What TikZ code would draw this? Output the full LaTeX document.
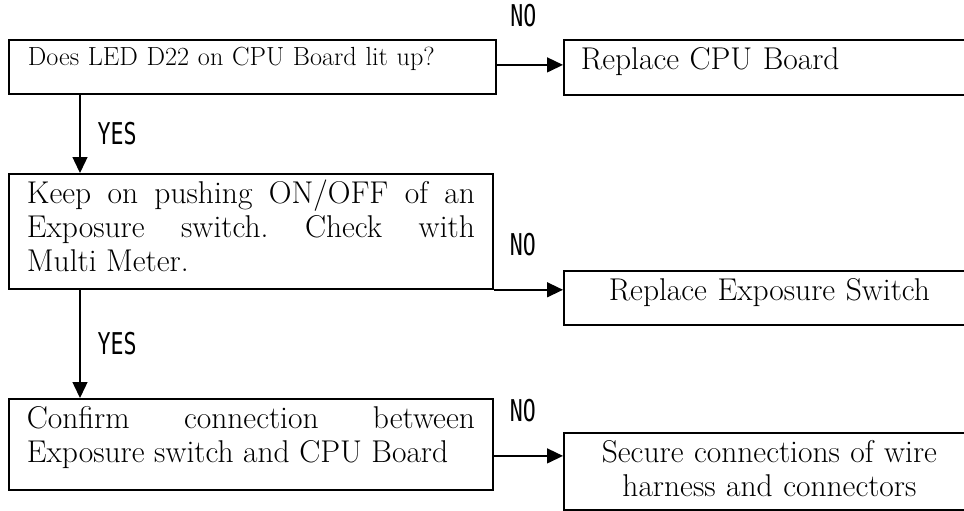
\documentclass[tikz,border=0pt]{standalone}
\usepackage{fontspec}
\usepackage{graphicx}
\usetikzlibrary{arrows.meta}
\newfontfamily\lblfont{DejaVu Sans Mono}
\newcommand\lbltext[1]{\scalebox{.72}[1]{#1}}

\begin{document}
\frenchspacing
\begin{tikzpicture}[x=1pt,y=-1pt,
    box/.style={draw, line width=1.8pt, anchor=north west, inner ysep=0pt,
      text height=30pt, font=\fontsize{31.5}{34}\selectfont},
    arr/.style={line width=1.4pt, -{Triangle[length=16pt,width=15pt]}},
    lbl/.style={inner sep=0pt, font=\fontsize{30}{32}\lblfont}]
    \useasboundingbox (0,0) rectangle (964,511);
    % checks
    \node[box, inner xsep=19pt, text width=449pt, align=left,
      text height=26pt, text depth=28pt, font=\fontsize{26.2}{30}\selectfont]
      (q1) at (8,39) {Does LED D22 on CPU Board lit up?};
    \node[box, inner xsep=18pt, text width=448pt, align=justify, text depth=85pt]
      (q2) at (8,173) {Keep on pushing ON/OFF of an\linebreak
      Exposure switch. Check with\linebreak Multi Meter.};
    \node[box, inner xsep=18pt, text width=448pt, align=justify, text depth=61pt]
      (q3) at (8,398) {Confirm connection between\linebreak
      Exposure switch and CPU Board};
    % actions
    \node[box, inner xsep=17pt, text width=377pt, align=left, text depth=25pt]
      (r1) at (563,39) {Replace CPU Board};
    \node[box, inner xsep=0pt, text width=411pt, align=center, text depth=24pt]
      (r2) at (563,270) {Replace Exposure Switch};
    \node[box, inner xsep=0pt, text width=411pt, align=center, text depth=47pt]
      (r3) at (563,432) {Secure connections of wire\\harness and connectors};
    % YES
    \draw[arr] ([xshift=72pt]q1.south west) -- node[lbl, right=17pt] (yes1) {\lbltext{YES}}
      ([xshift=72pt]q2.north west);
    \draw[arr] ([xshift=72pt]q2.south west) -- node[lbl, right=17pt] (yes2) {\lbltext{YES}}
      ([xshift=72pt]q3.north west);
    % NO
    \draw[arr] ([yshift=2pt]q1.east) -- node[lbl, pos=.4, above=37pt] (no1) {\lbltext{NO}}
      ([yshift=2pt]q1.east -| r1.west);
    \draw[arr] (q2.south east) -- node[lbl, pos=.42, above=33pt] (no2) {\lbltext{NO}}
      (q2.south east -| r2.west);
    \draw[arr] ([yshift=-11.5pt]q3.east) -- node[lbl, pos=.42, above=33pt] (no3) {\lbltext{NO}}
      ([yshift=-11.5pt]q3.east -| r3.west);
\end{tikzpicture}
\end{document}
